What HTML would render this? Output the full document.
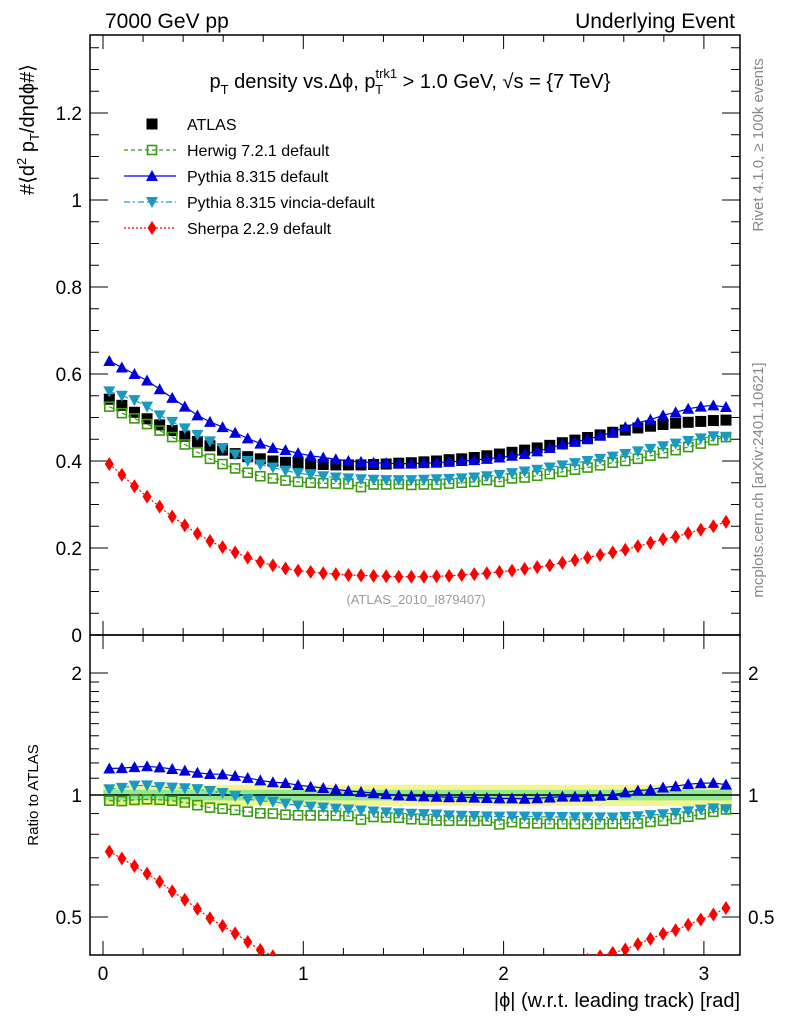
<!DOCTYPE html>
<html><head><meta charset="utf-8"><style>
html,body{margin:0;padding:0;background:#fff;}
svg{display:block;font-family:"Liberation Sans",sans-serif;}
</style></head><body>
<svg id="c" width="786" height="1024" viewBox="0 0 786 1024" xmlns="http://www.w3.org/2000/svg">
<text x="105" y="28" font-size="21">7000 GeV pp</text>
<text x="735" y="28" font-size="21" text-anchor="end">Underlying Event</text>
<text x="410" y="88" font-size="20" text-anchor="middle">p<tspan font-size="13" dy="6">T</tspan><tspan dy="-6"> density vs.Δϕ, p</tspan><tspan font-size="13" dy="-10">trk1</tspan><tspan font-size="13" dx="-22" dy="16">T</tspan><tspan dx="14" dy="-6"> &gt; 1.0 GeV, √s = {7 TeV}</tspan></text>
<text transform="translate(34,195) rotate(-90)" font-size="20">#⟨d<tspan font-size="13" dy="-8">2</tspan><tspan dy="8"> p</tspan><tspan font-size="13" dy="5">T</tspan><tspan dy="-5">/dηdϕ#⟩</tspan></text>
<text transform="translate(38,795) rotate(-90)" font-size="15" text-anchor="middle">Ratio to ATLAS</text>
<text transform="translate(763,145) rotate(-90)" font-size="15" fill="#888" text-anchor="middle">Rivet 4.1.0, ≥ 100k events</text>
<text transform="translate(763,480) rotate(-90)" font-size="15" fill="#888" text-anchor="middle">mcplots.cern.ch [arXiv:2401.10621]</text>
<text x="416" y="604" font-size="13" fill="#999" text-anchor="middle">(ATLAS_2010_I879407)</text>
<text x="740" y="1007" font-size="20" text-anchor="end">|ϕ| (w.r.t. leading track) [rad]</text>
<g id="plot"></g>
</svg>
<script>
const xs = Array.from({length:50},(_,i)=>(i+0.5)*Math.PI/50);
const atlas = [0.542,0.528,0.512,0.497,0.483,0.470,0.457,0.445,0.435,0.425,0.417,0.410,0.405,0.400,0.397,0.395,0.393,0.392,0.391,0.391,0.391,0.392,0.393,0.395,0.396,0.398,0.400,0.403,0.405,0.408,0.412,0.416,0.420,0.425,0.430,0.436,0.442,0.448,0.454,0.460,0.466,0.471,0.476,0.480,0.484,0.487,0.489,0.491,0.493,0.494];
const herwig = [0.525,0.510,0.498,0.485,0.470,0.455,0.438,0.420,0.405,0.393,0.383,0.373,0.365,0.360,0.355,0.352,0.350,0.349,0.348,0.347,0.340,0.346,0.346,0.347,0.345,0.346,0.346,0.348,0.350,0.352,0.356,0.352,0.360,0.362,0.366,0.370,0.375,0.380,0.385,0.390,0.396,0.400,0.405,0.412,0.418,0.425,0.432,0.440,0.448,0.455];
const pythia = [0.630,0.615,0.600,0.585,0.565,0.545,0.525,0.505,0.490,0.478,0.465,0.452,0.440,0.430,0.425,0.418,0.412,0.408,0.404,0.400,0.398,0.396,0.395,0.394,0.394,0.395,0.396,0.398,0.400,0.402,0.405,0.408,0.412,0.416,0.422,0.430,0.438,0.444,0.450,0.458,0.466,0.478,0.488,0.495,0.505,0.512,0.520,0.525,0.528,0.524];
const vincia = [0.560,0.550,0.540,0.525,0.505,0.490,0.475,0.460,0.445,0.430,0.415,0.400,0.392,0.385,0.378,0.372,0.368,0.365,0.362,0.360,0.358,0.357,0.356,0.356,0.356,0.357,0.358,0.359,0.360,0.362,0.365,0.368,0.372,0.376,0.380,0.385,0.390,0.395,0.400,0.405,0.410,0.416,0.422,0.428,0.434,0.440,0.446,0.452,0.457,0.455];
const sherpa = [0.393,0.368,0.342,0.318,0.295,0.272,0.252,0.233,0.216,0.202,0.190,0.178,0.168,0.160,0.153,0.148,0.145,0.142,0.140,0.138,0.137,0.136,0.135,0.134,0.134,0.134,0.135,0.136,0.138,0.140,0.142,0.145,0.148,0.152,0.156,0.160,0.166,0.172,0.178,0.184,0.190,0.196,0.204,0.212,0.220,0.226,0.234,0.242,0.250,0.260];
const yTicks = [0,0.2,0.4,0.6,0.8,1,1.2];
const rTicks = [0.5,1,2];
const xTicks = [0,1,2,3];

const NS="http://www.w3.org/2000/svg";
const g=document.getElementById('plot');
const L=90,R=740,T=35,M=635,B=955;
const X=v=>103+v*200.3;
const Y=v=>635-v*435;
const RY=v=>795-122*Math.log2(v);
function mk(tag,a,parent){const e=document.createElementNS(NS,tag);for(const k in a)e.setAttribute(k,a[k]);(parent||g).appendChild(e);return e;}

// ratio band
const bandY=mk('rect',{x:X(xs[0])-6,y:RY(1.06),width:X(xs[49])-X(xs[0])+12,height:RY(0.94)-RY(1.06),fill:'#f5f590'});


const bandG=mk('rect',{x:X(xs[0])-6,y:RY(1.03),width:X(xs[49])-X(xs[0])+12,height:RY(0.97)-RY(1.03),fill:'#90e890'});


const one=mk('line',{x1:L,x2:R,y1:RY(1),y2:RY(1),stroke:'#000','stroke-width':1.5});



// frames
for(const [y1,y2,n] of [[T,M,'main-frame'],[M,B,'ratio-frame']]){
 const f=mk('rect',{x:L,y:y1,width:R-L,height:y2-y1,fill:'none',stroke:'#000','stroke-width':1.5});
 
 
}
// x ticks
for(let v=0;v<=3.1;v+=0.2){
 const major=Math.abs(v-Math.round(v))<1e-6;
 const len=major?14:7;
 for(const [yb,dir] of [[T,1],[M,-1],[M,1],[B,-1]]) mk('line',{x1:X(v),x2:X(v),y1:yb,y2:yb+dir*len,stroke:'#000'});
}
xTicks.forEach(v=>{const t=mk('text',{x:X(v),y:980,'font-size':19,'text-anchor':'middle'});t.textContent=v;
 
 });
// main y ticks
for(let k=0;k<=27;k++){const v=k*0.05;const yy=Y(v);if(yy<T)break;const major=k%4==0;const len=major?18:9;
 mk('line',{x1:L,x2:L+len,y1:yy,y2:yy,stroke:'#000'});mk('line',{x1:R,x2:R-len,y1:yy,y2:yy,stroke:'#000'});}
yTicks.forEach(v=>{const t=mk('text',{x:82,y:Y(v)+7,'font-size':19,'text-anchor':'end'});t.textContent=v;
 
 });
// ratio ticks
const rmin=[0.5,0.6,0.7,0.8,0.9,1,1.1,1.2,1.3,1.4,1.5,1.6,1.7,1.8,1.9,2];
rmin.forEach(v=>{const major=rTicks.includes(v);const len=major?18:9;const yy=RY(v);
 mk('line',{x1:L,x2:L+len,y1:yy,y2:yy,stroke:'#000'});mk('line',{x1:R,x2:R-len,y1:yy,y2:yy,stroke:'#000'});});
rTicks.forEach(v=>{for(const [x,a] of [[82,'end'],[748,'start']]){const t=mk('text',{x:x,y:RY(v)+7,'font-size':19,'text-anchor':a});t.textContent=v;
 
 }});

// markers
function marker(type,color,x,y,par){
 const s=5.5;
 if(type=='sq') return mk('rect',{x:x-s,y:y-s,width:2*s,height:2*s,fill:color},par);
 if(type=='osq') return mk('rect',{x:x-4.5,y:y-4.5,width:9,height:9,fill:'none',stroke:color,'stroke-width':1.6},par);
 if(type=='up') return mk('polygon',{points:`${x},${y-6} ${x-6},${y+5} ${x+6},${y+5}`,fill:color},par);
 if(type=='dn') return mk('polygon',{points:`${x},${y+6} ${x-6},${y-5} ${x+6},${y-5}`,fill:color},par);
 if(type=='dia') return mk('polygon',{points:`${x},${y-7} ${x-4.5},${y} ${x},${y+7} ${x+4.5},${y}`,fill:color},par);
}
const clipR=mk('clipPath',{id:'cr'});mk('rect',{x:L,y:M,width:R-L,height:B-M},clipR);
const series=[
 {n:'sherpa',d:sherpa,c:'#f00',m:'dia',dash:'2,2'},
 {n:'herwig',d:herwig,c:'#3a9a10',m:'osq',dash:'4,3'},
 {n:'vincia',d:vincia,c:'#1a9ac0',m:'dn',dash:'6,3,2,3'},
 {n:'pythia',d:pythia,c:'#00d',m:'up',dash:''},
];
// atlas main
const ga=mk('g',{});


atlas.forEach((v,i)=>marker('sq','#000',X(xs[i]),Y(v),ga));
series.forEach(s=>{
 const gm=mk('g',{});
 
 
 mk('polyline',{points:s.d.map((v,i)=>X(xs[i])+','+Y(v)).join(' '),fill:'none',stroke:s.c,'stroke-width':1.2,'stroke-dasharray':s.dash},gm);
 s.d.forEach((v,i)=>marker(s.m,s.c,X(xs[i]),Y(v),gm));
 const gr=mk('g',{'clip-path':'url(#cr)'});
 
 
 const rv=s.d.map((v,i)=>v/atlas[i]);
 mk('polyline',{points:rv.map((v,i)=>X(xs[i])+','+RY(v)).join(' '),fill:'none',stroke:s.c,'stroke-width':1.2,'stroke-dasharray':s.dash},gr);
 rv.forEach((v,i)=>marker(s.m,s.c,X(xs[i]),RY(v),gr));
});
// legend
const leg=[['ATLAS','#000','sq',null],['Herwig 7.2.1 default','#3a9a10','osq','4,3'],['Pythia 8.315 default','#00d','up',''],['Pythia 8.315 vincia-default','#1a9ac0','dn','6,3,2,3'],['Sherpa 2.2.9 default','#f00','dia','2,2']];
leg.forEach((e,i)=>{const y=124+i*26;
 const gl=mk('g',{});
 
 
 if(e[3]!==null) mk('line',{x1:124,x2:176,y1:y,y2:y,stroke:e[1],'stroke-width':1.2,'stroke-dasharray':e[3]},gl);
 marker(e[2],e[1],152,y,gl);
 const t=mk('text',{x:187,y:y+6,'font-size':16},gl);t.textContent=e[0];});
</script>
</body></html>
